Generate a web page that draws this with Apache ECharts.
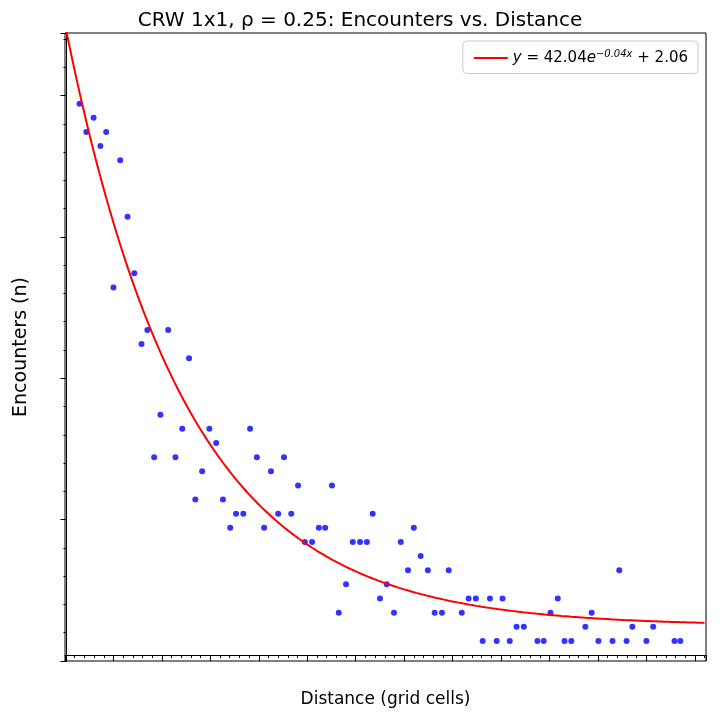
<!DOCTYPE html>
<html><head><meta charset="utf-8">
<script src="https://cdn.jsdelivr.net/npm/echarts@6/dist/echarts.min.js"></script>
<style>html,body{margin:0;background:#fff}#c{width:720px;height:720px}</style>
</head><body><div id="c"></div>
<script>
const distX = [2.7,4.1,5.6,7.0,8.2,9.7,11.1,12.6,14.0,15.5,16.7,18.1,19.4,21.0,22.5,23.9,25.3,26.6,28.0,29.5,30.9,32.3,33.8,35.0,36.5,37.9,39.3,40.8,42.2,43.7,44.9,46.4,47.8,49.2,50.7,52.1,53.4,54.8,56.2,57.7,59.1,60.6,62.0,63.2,64.7,66.1,67.6,69.0,70.5,71.7,73.1,74.6,76.0,77.5,78.9,81.6,83.0,84.5,85.9,87.4,88.8,90.0,91.5,92.9,94.4,97.2,98.5,99.9,101.4,102.8,104.2,107.1,108.4,109.8,112.7,114.1,115.6,116.8,119.7,121.1,125.5,126.7];
const encounters = [39,37,38,36,37,26,35,31,27,22,23,14,17,23,14,16,21,11,13,16,15,11,9,10,10,16,14,9,13,10,14,10,12,8,8,9,9,12,3,5,8,8,8,10,4,5,3,8,6,9,7,6,3,3,6,3,4,4,1,4,1,4,1,2,2,1,1,3,4,1,1,2,3,1,1,6,1,2,1,2,1,1];
const fitA = 42.04, fitB = 0.04, fitC = 2.06;
const fitLine = [];
for (let x = -0.3; x <= 132; x += 0.5) fitLine.push([x, fitA*Math.exp(-fitB*x)+fitC]);
const ch = echarts.init(document.getElementById('c'));
const ax = {color:'#000',fontSize:13,fontFamily:'DejaVu Sans'};
ch.setOption({
  animation:false,
  title:{text:'CRW 1x1, ρ = 0.25: Encounters vs. Distance',left:'center',top:6,textStyle:{fontFamily:'DejaVu Sans',fontSize:20,fontWeight:'normal',color:'#000'}},
  grid:{left:65,right:14,top:33,bottom:59,show:true,borderColor:'#000',borderWidth:1},
  legend:{right:22,top:41,data:['fit'],itemWidth:34,itemHeight:2,borderColor:'#ccc',borderWidth:1,borderRadius:4,padding:[8,10],
    formatter:()=>'{i|y} = 42.04{i|e}{s|−0.04x} + 2.06',
    textStyle:{fontFamily:'DejaVu Sans',fontSize:15,color:'#000',rich:{i:{fontStyle:'italic',fontSize:15,fontFamily:'DejaVu Sans'},s:{fontSize:10,verticalAlign:'top',padding:[0,0,8,0],fontStyle:'italic',fontFamily:'DejaVu Sans'}}}},
  xAxis:{type:'value',min:-0.3,max:132,interval:10,name:'Distance (grid cells)',nameLocation:'middle',nameGap:30,
    nameTextStyle:{fontFamily:'DejaVu Sans',fontSize:17,color:'#000'},
    axisLine:{lineStyle:{color:'#000'}},axisTick:{inside:false,length:6,lineStyle:{color:'#000'}},
    minorTick:{show:true,splitNumber:5,length:3,lineStyle:{color:'#000'}},splitLine:{show:false},
    axisLabel:{...ax,formatter:v=>Math.abs(v-Math.round(v))<1e-6&&Math.round(v)%10===0?String(Math.round(v)):''}},
  yAxis:{type:'value',min:-0.42,max:44,interval:10,name:'Encounters (n)',nameLocation:'middle',nameGap:34,
    nameTextStyle:{fontFamily:'DejaVu Sans',fontSize:19,color:'#000'},
    axisLine:{show:true,lineStyle:{color:'#000'}},axisTick:{show:true,length:6,lineStyle:{color:'#000'}},
    minorTick:{show:true,splitNumber:5,length:3,lineStyle:{color:'#000'}},splitLine:{show:false},
    axisLabel:{...ax,formatter:v=>Math.abs(v-Math.round(v))<1e-6&&Math.round(v)%10===0?String(Math.round(v)):''}},
  series:[
    {type:'scatter',data:distX.map((x,i)=>[x,encounters[i]]),symbolSize:6,itemStyle:{color:'#0000ff'},z:3},
    {name:'fit',type:'line',data:fitLine,showSymbol:false,symbol:'none',lineStyle:{color:'#ff0000',width:2},itemStyle:{color:'#ff0000'},z:4}
  ]
});
</script></body></html>
